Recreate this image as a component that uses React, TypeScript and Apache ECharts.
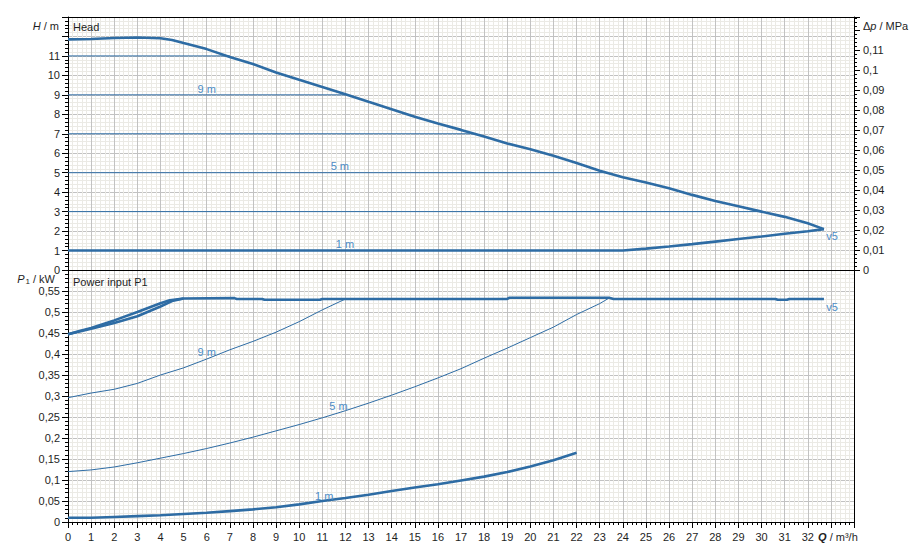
import React, { useEffect, useRef } from "react";
import * as echarts from "echarts";

// ---- data (Q in m³/h) ----
const headMax: number[][] = [
  [0, 11.85], [1, 11.87], [2, 11.92], [3, 11.95], [4, 11.91], [4.5, 11.82], [5, 11.66],
  [6, 11.35], [7, 10.95], [8, 10.58], [9, 10.15], [10, 9.77], [11, 9.4], [12, 9.03],
  [13, 8.64], [14, 8.26], [15, 7.88], [16, 7.53], [17, 7.2], [18, 6.86], [19, 6.5],
  [20, 6.2], [21, 5.87], [22, 5.5], [23, 5.1], [24, 4.77], [25, 4.5], [26, 4.2],
  [27, 3.86], [28, 3.55], [29, 3.28], [30, 3.0], [31, 2.73], [32, 2.4], [32.7, 2.1],
];
const headMin: number[][] = [
  [0, 1], [24, 1], [25, 1.1], [26, 1.21], [27, 1.33], [28, 1.46], [29, 1.59],
  [30, 1.72], [31, 1.86], [32, 1.99], [32.7, 2.1],
];
const constHeads = [11, 9, 7, 5, 3];
const constHeadEndQ = [7.0, 12.0, 17.6, 23.3, 30.0];

const powerMaxUpper: number[][] = [
  [0, 0.447], [0.5, 0.455], [1, 0.462], [2, 0.48], [3, 0.5], [4, 0.521], [4.4, 0.528],
  [5, 0.532], [7.2, 0.533], [7.3, 0.531], [8.4, 0.531], [8.5, 0.529], [10.9, 0.529],
  [11, 0.531], [19, 0.531], [19.1, 0.534], [23.4, 0.534], [23.6, 0.531], [30.6, 0.531],
  [30.7, 0.529], [31.1, 0.529], [31.2, 0.531], [32.7, 0.531],
];
const powerMaxLower: number[][] = [
  [0, 0.447], [1, 0.46], [2, 0.474], [3, 0.49], [4, 0.513], [4.5, 0.526], [5, 0.532],
];
const power9m: number[][] = [
  [0, 0.296], [1, 0.307], [2, 0.316], [3, 0.33], [4, 0.35], [5, 0.367], [6, 0.388],
  [7, 0.41], [8, 0.43], [9, 0.452], [10, 0.477], [11, 0.505], [12, 0.531],
];
const power5m: number[][] = [
  [0, 0.12], [1, 0.124], [2, 0.131], [3, 0.141], [4, 0.152], [5, 0.163], [6, 0.175],
  [7, 0.188], [8, 0.202], [9, 0.217], [10, 0.232], [11, 0.248], [12, 0.265], [13, 0.283],
  [14, 0.302], [15, 0.322], [16, 0.343], [17, 0.365], [18, 0.39], [19, 0.414], [20, 0.439],
  [21, 0.464], [22, 0.494], [23, 0.52], [23.4, 0.533],
];
const power1m: number[][] = [
  [0, 0.01], [1, 0.01], [2, 0.012], [3, 0.014], [4, 0.016], [5, 0.019], [6, 0.022],
  [7, 0.026], [8, 0.03], [9, 0.035], [10, 0.042], [11, 0.05], [12, 0.057], [13, 0.065],
  [14, 0.074], [15, 0.082], [16, 0.09], [17, 0.099], [18, 0.108], [19, 0.119], [20, 0.132],
  [21, 0.147], [22, 0.165],
];
const headCurveLabels = [
  { name: "9 m", value: [6.0, 9.31] },
  { name: "5 m", value: [11.76, 5.35] },
  { name: "1 m", value: [11.98, 1.34] },
  { name: "v5", value: [33.05, 1.76] },
];
const powerCurveLabels = [
  { name: "9 m", value: [6.0, 0.4055] },
  { name: "5 m", value: [11.7, 0.2758] },
  { name: "1 m", value: [11.08, 0.061] },
  { name: "v5", value: [33.05, 0.512] },
];
const qMax = 34;
const hMax = 13;
const dpMax = 0.1265;
const pMax = 0.6;

const FONT = "Liberation Sans, Arial, sans-serif";
const TXT = "#1e1e1e";
const LINE = "#2e6ca4";
const LBL = "#4d8cc6";
const MAJOR = "#c2c2c2";
const MINOR = "#ebeae5";

const fmt = (v: number) => String(Number(v.toFixed(3))).replace(".", ",");

export default function App() {
  const ref = useRef<HTMLDivElement>(null);
  useEffect(() => {
    if (!ref.current) return;
    const chart = echarts.init(ref.current, null, { renderer: "svg" });
    const axisLine = { show: true, onZero: false, lineStyle: { color: "#000", width: 1 } };
    const labelStyle = { fontFamily: FONT, fontSize: 11, color: TXT };
    const split = { show: true, lineStyle: { color: MAJOR, width: 1 } };
    const minorSplit = { show: true, lineStyle: { color: MINOR, width: 1 } };
    const tick = { show: true, length: 6, lineStyle: { color: "#000" } };
    const minorTick = { show: true, splitNumber: 5, length: 3, lineStyle: { color: "#000" } };

    const grids = [
      { left: 68, right: 67, top: 17, height: 253 },
      { left: 68, right: 67, top: 270, height: 252 },
    ];

    const thin = (data: number[][], xi: number) => ({
      type: "line", xAxisIndex: xi, yAxisIndex: xi === 0 ? 0 : 2, data,
      showSymbol: false, symbol: "none", lineStyle: { color: LINE, width: 1 }, z: 3,
    });
    const thick = (data: number[][], xi: number) => ({
      type: "line", xAxisIndex: xi, yAxisIndex: xi === 0 ? 0 : 2, data,
      showSymbol: false, symbol: "none", lineStyle: { color: LINE, width: 2.6 }, z: 4,
    });
    const labels = (data: any[], xi: number) => ({
      type: "scatter", xAxisIndex: xi, yAxisIndex: xi === 0 ? 0 : 2, data,
      symbol: "circle", symbolSize: 1, itemStyle: { color: "rgba(0,0,0,0)" }, z: 6, silent: true,
      label: {
        show: true, position: "inside", formatter: "{b}",
        fontFamily: FONT, fontSize: 11, color: LBL, opacity: 1,
      },
    });

    const series: any[] = [];
    constHeads.forEach((h, i) => {
      series.push(thin([[0, h], [constHeadEndQ[i], h]], 0));
    });
    series.push(thick(headMax, 0));
    series.push(thick(headMin, 0));
    series.push(labels(headCurveLabels, 0));
    series.push(thin(power9m, 1));
    series.push(thin(power5m, 1));
    series.push(thick(power1m, 1));
    series.push(thick(powerMaxLower, 1));
    series.push(thick(powerMaxUpper, 1));
    series.push(labels(powerCurveLabels, 1));

    chart.setOption({
      animation: false,
      backgroundColor: "#ffffff",
      textStyle: { fontFamily: FONT },
      title: [
        { text: "Head", left: 73, top: 21, padding: 0, textStyle: { fontFamily: FONT, fontSize: 11, fontWeight: "normal", color: TXT } },
        { text: "Power input P1", left: 73, top: 276, padding: 0, textStyle: { fontFamily: FONT, fontSize: 11, fontWeight: "normal", color: TXT } },
      ],
      grid: grids,
      xAxis: [
        {
          type: "value", gridIndex: 0, position: "bottom", min: 0, max: qMax, interval: 1,
          axisLine, axisTick: { show: false }, axisLabel: { show: false },
          minorTick: { show: false, splitNumber: 5 }, splitLine: split, minorSplitLine: minorSplit,
        },
        {
          type: "value", gridIndex: 1, position: "bottom", min: 0, max: qMax, interval: 1,
          axisLine, axisTick: tick, minorTick,
          splitLine: split, minorSplitLine: minorSplit,
          axisLabel: {
            ...labelStyle, margin: 9, showMaxLabel: true, showMinLabel: true,
            formatter: (v: number) => (v === 33 ? "{q|Q}{n| / m³/h}" : v > 33 ? "" : String(v)),
            rich: {
              q: { fontFamily: FONT, fontSize: 11, color: TXT, fontStyle: "italic", fontWeight: "bold", padding: [0, 0, 0, 14] },
              n: { fontFamily: FONT, fontSize: 11, color: TXT },
            },
          },
        },
        {
          type: "value", gridIndex: 0, position: "top", min: 0, max: qMax, interval: 1,
          axisLine, axisTick: { show: false }, axisLabel: { show: false }, splitLine: { show: false },
        },
      ],
      yAxis: [
        {
          type: "value", gridIndex: 0, position: "left", min: 0, max: hMax, interval: 1,
          axisLine, axisTick: tick, minorTick, splitLine: split, minorSplitLine: minorSplit,
          axisLabel: { ...labelStyle, margin: 8, formatter: (v: number) => (v <= 11 ? String(v) : "") },
          name: "{i|H}{n| / m}", nameLocation: "end", nameGap: -8.5,
          nameTextStyle: {
            align: "right", verticalAlign: "middle", padding: [0, 9, 0, 0],
            rich: {
              i: { fontFamily: FONT, fontSize: 11, color: TXT, fontStyle: "italic" },
              n: { fontFamily: FONT, fontSize: 11, color: TXT },
            },
          },
        },
        {
          type: "value", gridIndex: 0, position: "right", min: 0, max: dpMax, interval: 0.01,
          axisLine, axisTick: tick, minorTick, splitLine: { show: false },
          axisLabel: { ...labelStyle, margin: 9, formatter: (v: number) => (v <= 0.115 ? fmt(v) : "") },
          name: "{n|Δ}{i|p}{n| / MPa}", nameLocation: "end", nameGap: -8.5,
          nameTextStyle: {
            align: "left", verticalAlign: "middle", padding: [0, 0, 0, 9],
            rich: {
              i: { fontFamily: FONT, fontSize: 11, color: TXT, fontStyle: "italic" },
              n: { fontFamily: FONT, fontSize: 11, color: TXT },
            },
          },
        },
        {
          type: "value", gridIndex: 1, position: "left", min: 0, max: pMax, interval: 0.05,
          axisLine, axisTick: tick, minorTick, splitLine: split, minorSplitLine: minorSplit,
          axisLabel: { ...labelStyle, margin: 8, formatter: (v: number) => (v <= 0.555 ? fmt(v) : "") },
          name: "{i|P}{s|1}{n| / kW}", nameLocation: "end", nameGap: -9,
          nameTextStyle: {
            align: "right", verticalAlign: "middle", padding: [0, 13, 0, 0],
            rich: {
              i: { fontFamily: FONT, fontSize: 11, color: TXT, fontStyle: "italic" },
              s: { fontFamily: FONT, fontSize: 8, color: TXT, padding: [5, 0, 0, 1] },
              n: { fontFamily: FONT, fontSize: 11, color: TXT },
            },
          },
        },
        {
          type: "value", gridIndex: 1, position: "right", min: 0, max: pMax, interval: 0.05,
          axisLine, axisTick: { show: false }, axisLabel: { show: false }, splitLine: { show: false },
        },
      ],
      series,
    });
    return () => chart.dispose();
  }, []);
  return (
    <div
      ref={ref}
      style={{ position: "fixed", left: 0, top: 0, width: 921, height: 559, background: "#fff" }}
    />
  );
}
